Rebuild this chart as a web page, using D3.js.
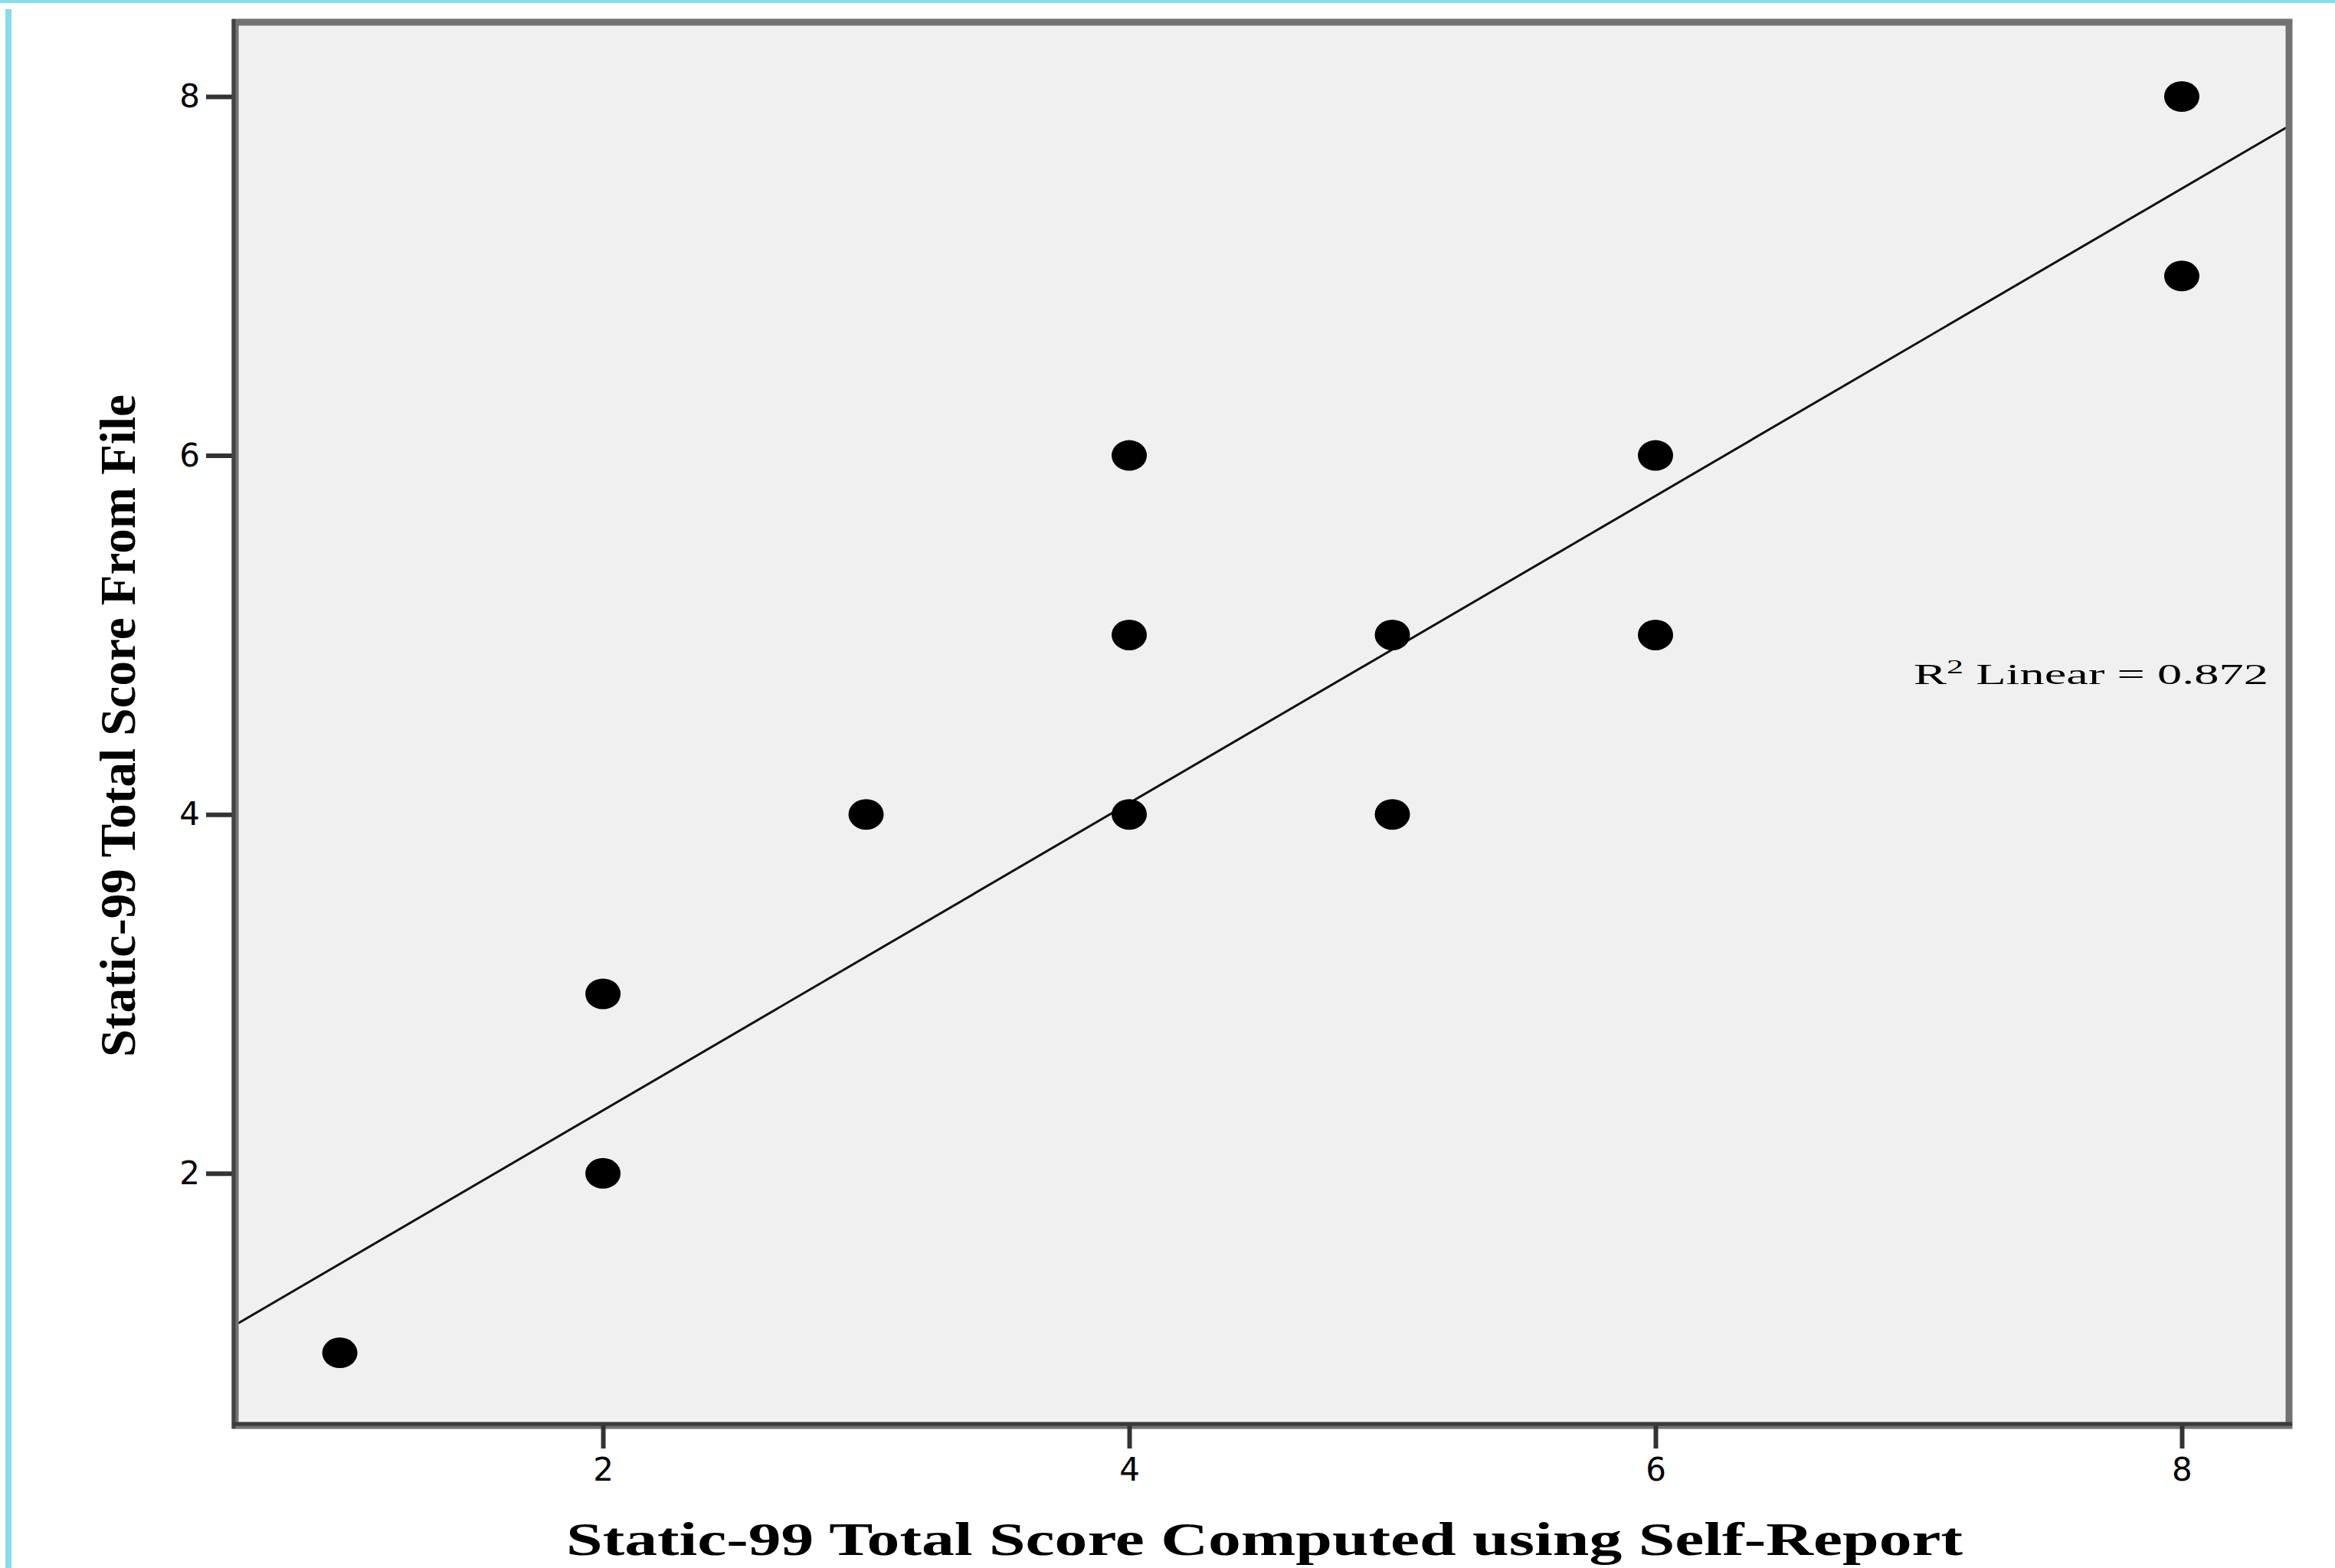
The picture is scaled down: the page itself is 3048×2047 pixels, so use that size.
<!DOCTYPE html>
<html><head><meta charset="utf-8">
<script src="https://cdn.jsdelivr.net/npm/d3@7"></script>
<style>body{margin:0;background:#fff}svg{display:block}</style>
</head><body>
<script>
// Data
const xValues = [1, 2, 2, 3, 4, 4, 4, 5, 5, 6, 6, 8, 8];
const yValues = [1, 2, 3, 4, 4, 5, 6, 4, 5, 5, 6, 7, 8];
const xTicks = [2, 4, 6, 8];
const yTicks = [2, 4, 6, 8];
const fitLine = [0.639, 0.856]; // intercept, slope
const rSquared = "0.872";
const xTitle = "Static-99 Total Score Computed using Self-Report";
const yTitle = "Static-99 Total Score From File";

const W = 3048, H = 2047;
const L = 311, R = 2984, T = 33, B = 1857;

const svg = d3.select("body").append("svg").attr("width", W).attr("height", H);

// cyan page borders
svg.append("rect").attr("x", 0).attr("y", 0).attr("width", W).attr("height", 4).attr("fill", "#86dcea");
svg.append("rect").attr("x", 7).attr("y", 12).attr("width", 8).attr("height", H - 12).attr("fill", "#86dcea");

const x = d3.scaleLinear().domain([0.614, 8.396]).range([L, R]);
const y = d3.scaleLinear().domain([0.612, 8.397]).range([B, T]);

// plot background
svg.append("rect").attr("x", L).attr("y", T).attr("width", R - L).attr("height", B - T)
  .attr("fill", "#f0f0f0");

// regression line
svg.append("clipPath").attr("id", "c").append("rect")
  .attr("x", L).attr("y", T).attr("width", R - L).attr("height", B - T);
const xd = x.domain();
svg.append("line")
  .attr("clip-path", "url(#c)")
  .attr("x1", x(xd[0])).attr("y1", y(fitLine[0] + fitLine[1] * xd[0]))
  .attr("x2", x(xd[1])).attr("y2", y(fitLine[0] + fitLine[1] * xd[1]))
  .attr("stroke", "#111").attr("stroke-width", 3);

// points
svg.append("g").selectAll("ellipse").data(xValues.map((v, i) => [v, yValues[i]]))
  .join("ellipse")
  .attr("cx", d => x(d[0])).attr("cy", d => y(d[1]))
  .attr("rx", 23).attr("ry", 20).attr("fill", "#000");

// frame
svg.append("rect").attr("x", L - 4).attr("y", T - 4).attr("width", R - L + 8).attr("height", B - T + 8)
  .attr("fill", "none").attr("stroke", "#727272").attr("stroke-width", 9);

// axes
const xAxis = d3.axisBottom(x).tickValues(xTicks).tickSize(30).tickPadding(12).tickFormat(d3.format("d"));
const gx = svg.append("g").attr("transform", `translate(0,${B + 4})`).call(xAxis);
const yAxis = d3.axisLeft(y).tickValues(yTicks).tickSize(38).tickPadding(8).tickFormat(d3.format("d"));
const gy = svg.append("g").attr("transform", `translate(${L - 4},0)`).call(yAxis);
[gx, gy].forEach(g => {
  g.select(".domain").remove();
  g.selectAll(".tick line").attr("stroke", "#333").attr("stroke-width", 6);
  g.selectAll(".tick text").attr("fill", "#000")
    .style("font-family", "'DejaVu Sans', 'Liberation Sans', sans-serif").style("font-size", "42px");
});
// darker inner axis lines
svg.append("line").attr("x1", L - 6).attr("x2", L - 6).attr("y1", T - 8).attr("y2", B + 8)
  .attr("stroke", "#444").attr("stroke-width", 5);
svg.append("line").attr("x1", L - 8).attr("x2", R + 8).attr("y1", B + 2).attr("y2", B + 2)
  .attr("stroke", "#3a3a3a").attr("stroke-width", 5);

// R squared annotation
const rt = svg.append("text").attr("x", 2498).attr("y", 893)
  .attr("textLength", 463).attr("lengthAdjust", "spacingAndGlyphs")
  .style("font-family", "'Liberation Serif', 'Times New Roman', serif").style("font-size", "38px")
  .attr("fill", "#000");
rt.append("tspan").text("R");
rt.append("tspan").attr("dy", -14).style("font-size", "26px").text("2");
rt.append("tspan").attr("dy", 14).text(" Linear = " + rSquared);

// axis titles
svg.append("text").attr("x", 739).attr("y", 2030)
  .attr("textLength", 1823).attr("lengthAdjust", "spacingAndGlyphs")
  .style("font-family", "'Liberation Serif', 'Times New Roman', serif").style("font-size", "62px")
  .style("font-weight", "bold").attr("fill", "#000").text(xTitle);

svg.append("text").attr("transform", `translate(176,1380) rotate(-90)`)
  .attr("textLength", 865).attr("lengthAdjust", "spacingAndGlyphs")
  .style("font-family", "'Liberation Serif', 'Times New Roman', serif").style("font-size", "66px")
  .style("font-weight", "bold").attr("fill", "#000").text(yTitle);
</script>
</body></html>
